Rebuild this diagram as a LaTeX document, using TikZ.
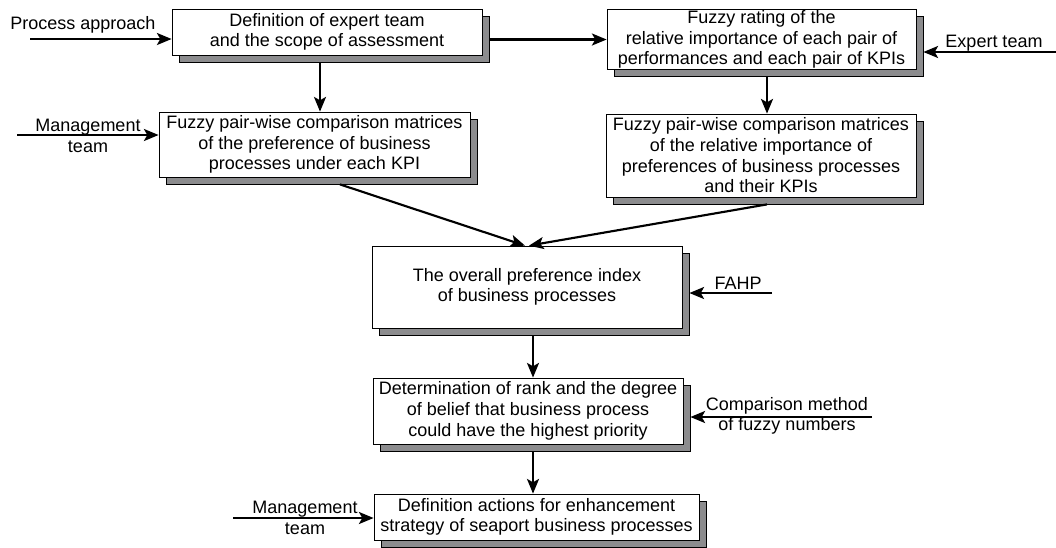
\documentclass[tikz,border=0pt]{standalone}
\usepackage{fontspec}
\setmainfont{Liberation Sans}
\usetikzlibrary{arrows.meta,shadows,calc}
\definecolor{shadowgray}{RGB}{140,140,142}
\tikzset{
  flowbox/.style={draw=black, line width=0.6pt, fill=white, inner sep=0pt, align=center,
    font=\fontsize{13.5}{15.5}\selectfont,
    general shadow={shadow xshift=5.25pt, shadow yshift=-5.25pt, fill=shadowgray, draw=black, line width=0.6pt}},
  arr/.style={line width=1.6pt, -{Stealth[length=11pt,width=9pt,inset=2.5pt]}},
  lbl/.style={inner sep=0pt, align=center, font=\fontsize{13.5}{15.5}\selectfont}
}
\begin{document}
\begin{tikzpicture}[x=0.75pt,y=-0.75pt]
\useasboundingbox (0,0) rectangle (1056,547);

% boxes
\node[flowbox, minimum width=232.5pt, minimum height=34.5pt] (b1) at (327,32)
  {Definition of expert team\\and the scope of assessment};
\node[flowbox, minimum width=233.25pt, minimum height=48.75pt] (b2) at (314.5,144.5)
  {Fuzzy pair-wise comparison matrices\\of the preference of business\\processes under each KPI};
\node[flowbox, minimum width=231.75pt, minimum height=45.4pt] (b3) at (761.5,39.5)
  {Fuzzy rating of the\\relative importance of each pair of\\performances and each pair of KPIs};
\node[flowbox, minimum width=232.5pt, minimum height=62.25pt] (b4) at (761,155.5)
  {Fuzzy pair-wise comparison matrices\\of the relative importance of\\preferences of business processes\\and their KPIs};
\node[flowbox, minimum width=232.5pt, minimum height=61.5pt] (b5) at (527,287)
  {The overall preference index\\of business processes};
\node[flowbox, minimum width=232.5pt, minimum height=49.5pt] (b6) at (528,411)
  {Determination of rank and the degree\\of belief that business process\\could have the highest priority};
\node[flowbox, minimum width=243.75pt, minimum height=34.5pt] (b7) at (536.5,517)
  {Definition actions for enhancement\\strategy of seaport business processes};

% free ends and helper coordinates
\coordinate (pa) at (30,39);
\coordinate (et) at (1056,52);
\coordinate (m1) at (17,135);
\coordinate (fahp) at (772,293);
\coordinate (cm) at (872,417);
\coordinate (m2) at (233,518);
\coordinate (x12) at (320,0);
\coordinate (x34) at (767,0);
\coordinate (x25) at (340,0);
\coordinate (t25) at (525,0);
\coordinate (t45) at (529,0);
\coordinate (x56) at (533,0);

% labels
\node[lbl] (lpa) at (83,25) {Process approach};
\node[lbl] (let) at (994,43) {Expert team};
\node[lbl] (lm1) at (88,136) {Management\\team};
\node[lbl] (lfahp) at (738,283) {FAHP};
\node[lbl] (lcm) at (787,416) {Comparison method\\of fuzzy numbers};
\node[lbl] (lm2) at (305,518) {Management\\team};

% connectors
\draw[arr] (pa) -- (pa -| b1.west);
\draw[arr] ([xshift=5.25pt]b1.east |- b3.west) -- (b3.west);
\draw[arr] (et) -- ([xshift=5.25pt]et -| b3.east);
\draw[arr] ([yshift=-5.25pt]b1.south -| x12) -- (b2.north -| x12);
\draw[arr] (m1) -- (m1 -| b2.west);
\draw[arr] ([yshift=-5.25pt]b3.south -| x34) -- (b4.north -| x34);
\draw[arr] ([yshift=-5.25pt]b2.south -| x25) -- (b5.north -| t25);
\draw[arr] ([yshift=-5.25pt]b4.south -| x34) -- (b5.north -| t45);
\draw[arr] (fahp) -- ([xshift=5.25pt]fahp -| b5.east);
\draw[arr] ([yshift=-5.25pt]b5.south -| x56) -- (b6.north -| x56);
\draw[arr] (cm) -- ([xshift=5.25pt]cm -| b6.east);
\draw[arr] ([yshift=-5.25pt]b6.south -| x56) -- (b7.north -| x56);
\draw[arr] (m2) -- (m2 -| b7.west);
\end{tikzpicture}
\end{document}
